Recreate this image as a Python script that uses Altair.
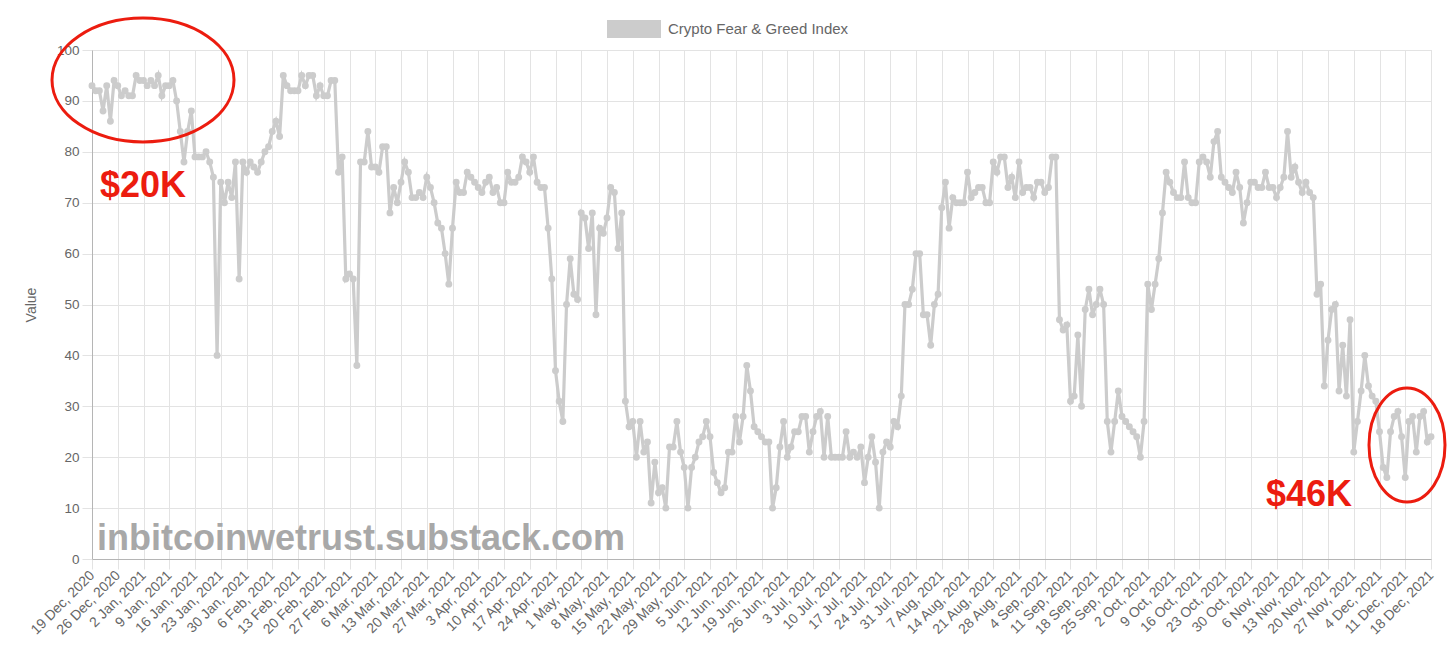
import altair as alt
import pandas as pd

start_date = "2020-12-19"

fear_greed = [
    93, 92, 92, 88, 93, 86, 94,
    93, 91, 92, 91, 91, 95, 94,
    94, 93, 94, 93, 95, 91, 93,
    93, 94, 90, 84, 78, 84, 88,
    79, 79, 79, 80, 78, 75, 40,
    74, 70, 74, 71, 78, 55, 78,
    76, 78, 77, 76, 78, 80, 81,
    84, 86, 83, 95, 93, 92, 92,
    92, 95, 93, 95, 95, 91, 93,
    91, 91, 94, 94, 76, 79, 55,
    56, 55, 38, 78, 78, 84, 77,
    77, 76, 81, 81, 68, 73, 70,
    74, 78, 76, 71, 71, 72, 71,
    75, 73, 70, 66, 65, 60, 54,
    65, 74, 72, 72, 76, 75, 74,
    73, 72, 74, 75, 72, 73, 70,
    70, 76, 74, 74, 75, 79, 78,
    76, 79, 74, 73, 73, 65, 55,
    37, 31, 27, 50, 59, 52, 51,
    68, 67, 61, 68, 48, 65, 64,
    67, 73, 72, 61, 68, 31, 26,
    27, 20, 27, 21, 23, 11, 19,
    13, 14, 10, 22, 22, 27, 21,
    18, 10, 18, 20, 23, 24, 27,
    24, 17, 15, 13, 14, 21, 21,
    28, 23, 28, 38, 33, 26, 25,
    24, 23, 23, 10, 14, 22, 27,
    20, 22, 25, 25, 28, 28, 21,
    25, 28, 29, 20, 28, 20, 20,
    20, 20, 25, 20, 21, 20, 22,
    15, 20, 24, 19, 10, 21, 23,
    22, 27, 26, 32, 50, 50, 53,
    60, 60, 48, 48, 42, 50, 52,
    69, 74, 65, 71, 70, 70, 70,
    76, 71, 72, 73, 73, 70, 70,
    78, 76, 79, 79, 73, 75, 71,
    78, 72, 73, 73, 71, 74, 74,
    72, 73, 79, 79, 47, 45, 46,
    31, 32, 44, 30, 49, 53, 48,
    50, 53, 50, 27, 21, 27, 33,
    28, 27, 26, 25, 24, 20, 27,
    54, 49, 54, 59, 68, 76, 74,
    72, 71, 71, 78, 71, 70, 70,
    78, 79, 78, 75, 82, 84, 75,
    74, 73, 72, 76, 73, 66, 70,
    74, 74, 73, 73, 76, 73, 73,
    71, 73, 75, 84, 75, 77, 74,
    72, 74, 72, 71, 52, 54, 34,
    43, 49, 50, 33, 42, 32, 47,
    21, 27, 33, 40, 34, 32, 31,
    25, 18, 16, 25, 28, 29, 24,
    16, 27, 28, 21, 28, 29, 23,
    24,
]

dates = pd.date_range(start_date, periods=len(fear_greed), freq="D")
tick_positions = list(range(0, len(fear_greed), 7))
tick_labels = [f"{d.day} {d.strftime('%b')}, {d.year}" for d in dates[::7]]

series_name = "Crypto Fear & Greed Index"
watermark = "inbitcoinwetrust.substack.com"
notes = ["$20K", "$46K"]

df = pd.DataFrame({"idx": range(len(fear_greed)), "date": dates.strftime("%Y-%m-%d"), "value": fear_greed})
one = pd.DataFrame({"k": [0]})

GRAY = "#666666"
LINE = "#cccccc"
GRID = "#e3e3e3"
RED = "#ec1c0f"
FONT = "Liberation Sans"

label_expr = "[" + ",".join("'" + s + "'" for s in tick_labels) + "][round(datum.value / 7)]"

x_enc = alt.X(
    "idx:Q",
    scale=alt.Scale(domain=[0, len(fear_greed) - 1], nice=False, zero=False),
    axis=alt.Axis(
        values=tick_positions,
        labelExpr=label_expr,
        labelAngle=-45,
        labelAlign="right",
        labelBaseline="middle",
        labelPadding=4,
        labelFontSize=14,
        labelColor=GRAY,
        labelFont=FONT,
        tickSize=10,
        tickColor=GRID,
        gridColor=GRID,
        domainColor="#b5b5b5",
        title=None,
        labelOverlap=False,
    ),
)
y_enc = alt.Y(
    "value:Q",
    scale=alt.Scale(domain=[0, 100], nice=False),
    axis=alt.Axis(
        values=list(range(0, 101, 10)),
        labelFontSize=13.5,
        labelColor=GRAY,
        labelFont=FONT,
        labelPadding=3,
        tickSize=10,
        tickColor=GRID,
        gridColor=GRID,
        domainColor="#b5b5b5",
        title="Value",
        titleFont=FONT,
        titleFontSize=14,
        titleFontWeight="normal",
        titleColor=GRAY,
        titlePadding=18,
    ),
)

line = alt.Chart(df).mark_line(
    color=LINE,
    strokeWidth=3.2,
    point=alt.OverlayMarkDef(filled=True, size=48, color=LINE, opacity=1),
).encode(x=x_enc, y=y_enc)

# legend
legend_box = alt.Chart(one).mark_rect(color="#cccccc").encode(
    x=alt.value(515), x2=alt.value(569), y=alt.value(-30), y2=alt.value(-12)
)
legend_text = alt.Chart(one).mark_text(
    text=series_name, align="left", baseline="middle", font=FONT, fontSize=15, color=GRAY
).encode(x=alt.value(576), y=alt.value(-21))

# annotations
wm = alt.Chart(one).mark_text(
    text=watermark, align="left", baseline="alphabetic", font=FONT, fontSize=36,
    fontWeight="bold", color="#a8a8a8"
).encode(x=alt.value(5), y=alt.value(500))

t20 = alt.Chart(one).mark_text(
    text=notes[0], align="left", baseline="alphabetic", font=FONT, fontSize=36,
    fontWeight="bold", color=RED
).encode(x=alt.value(8), y=alt.value(147))
t46 = alt.Chart(one).mark_text(
    text=notes[1], align="left", baseline="alphabetic", font=FONT, fontSize=36,
    fontWeight="bold", color=RED
).encode(x=alt.value(1174), y=alt.value(456))

def ellipse_path(rx, ry):
    k = 0.5523
    return (f"M {rx} 0 C {rx} {k*ry} {k*rx} {ry} 0 {ry} "
            f"C {-k*rx} {ry} {-rx} {k*ry} {-rx} 0 "
            f"C {-rx} {-k*ry} {-k*rx} {-ry} 0 {-ry} "
            f"C {k*rx} {-ry} {rx} {-k*ry} {rx} 0 Z")

e1 = alt.Chart(one).mark_point(
    shape=ellipse_path(1, 62 / 91), size=(2 * 91) ** 2, filled=False,
    stroke=RED, strokeWidth=3, opacity=1
).encode(x=alt.value(51), y=alt.value(30))
e2 = alt.Chart(one).mark_point(
    shape=ellipse_path(38 / 57, 1), size=(2 * 57) ** 2, filled=False,
    stroke=RED, strokeWidth=3, opacity=1
).encode(x=alt.value(1315), y=alt.value(395))

chart = alt.layer(line, legend_box, legend_text, wm, t20, t46, e1, e2).properties(
    width=1339,
    height=509,
    padding={"left": 84, "top": 42, "right": 17, "bottom": 100},
    autosize=alt.AutoSizeParams(type="none"),
).configure_view(strokeWidth=0).configure(background="white")

chart.save("out.html", embed_options={"renderer": "svg", "actions": False})
